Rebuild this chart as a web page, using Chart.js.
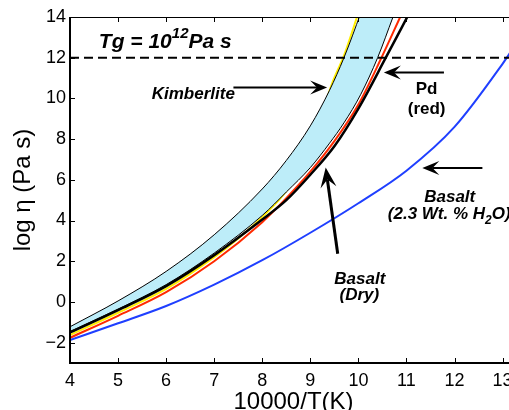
<!DOCTYPE html>
<html>
<head>
<meta charset="utf-8">
<script src="https://cdn.jsdelivr.net/npm/chart.js@4.4.1/dist/chart.umd.min.js"></script>
<style>
  html, body { margin: 0; padding: 0; background: #fff; overflow: hidden; }
  #wrap { width: 530px; height: 410px; }
</style>
</head>
<body>
<div id="wrap"><canvas id="viscChart" width="530" height="410"></canvas></div>
<script>
// x = 10000/T(K), y = log viscosity (Pa s)
const kimbX = [4, 5, 6, 7, 8, 8.5, 9, 9.4, 9.7, 10.05, 10.4, 10.72];
const kimbUpperY = [-1.22, 0.05, 1.5, 3.3, 5.55, 6.95, 8.65, 10.4, 12.0, 14.2, 16.5, 18.7];
const kimbLowerY = [-1.45, -0.35, 0.85, 2.4, 4.25, 5.4, 6.6, 7.8, 8.8, 10.2, 12.0, 14.0];
const yellowX = [4, 5, 6, 7, 7.5, 8, 8.5, 9, 9.2, 9.45, 9.7, 10.0];
const yellowY = [-1.63, -0.53, 0.64, 2.2, 3.12, 4.18, 5.45, 7.5, 8.9, 10.72, 12.1, 14.2];
const pdX = [4, 5, 6, 7, 8, 8.5, 9, 9.5, 10, 10.48, 10.87];
const pdY = [-1.76, -0.68, 0.48, 2.0, 3.92, 5.1, 6.4, 7.9, 9.7, 12.0, 14.0];
const dryX = [4, 5, 6, 7, 8, 8.5, 9, 9.5, 10, 10.57, 11.05];
const dryY = [-1.5, -0.4, 0.78, 2.3, 4.05, 5.0, 6.25, 7.65, 9.5, 12.0, 14.15];
const wetX = [4, 5, 6, 7, 8, 9, 10, 11, 12, 13, 13.3];
const wetY = [-1.87, -1.05, -0.2, 0.85, 2.05, 3.4, 4.85, 6.45, 8.6, 11.7, 12.75];
const tgX = [4, 13.3];
const tgY = [12, 12];

const xTicks = [4, 5, 6, 7, 8, 9, 10, 11, 12, 13];
const yTicks = [-2, 0, 2, 4, 6, 8, 10, 12, 14];

const FAMILY = "'Liberation Sans', Arial, Helvetica, sans-serif";

const series = (label, xs, ys, color, width, extra) => Object.assign({
  label,
  data: xs.map((v, i) => ({ x: v, y: ys[i] })),
  borderColor: color,
  borderWidth: width,
  pointRadius: 0,
  fill: false,
  cubicInterpolationMode: 'monotone'
}, extra || {});

function arrow(ctx, x1, y1, x2, y2, lw, len, half) {
  const ang = Math.atan2(y2 - y1, x2 - x1);
  const c = Math.cos(ang), s = Math.sin(ang);
  const notch = len * 0.6;
  ctx.lineWidth = lw;
  ctx.beginPath();
  ctx.moveTo(x1, y1);
  ctx.lineTo(x2 - c * notch, y2 - s * notch);
  ctx.stroke();
  ctx.beginPath();
  ctx.moveTo(x2, y2);
  ctx.lineTo(x2 - c * len - s * half, y2 - s * len + c * half);
  ctx.lineTo(x2 - c * notch, y2 - s * notch);
  ctx.lineTo(x2 - c * len + s * half, y2 - s * len - c * half);
  ctx.closePath();
  ctx.fill();
}

// text made of pieces: [text, size, raise, style]
function textRuns(ctx, parts, px, base, align) {
  const widths = parts.map(p => {
    ctx.font = `${p[3]} ${p[1]}px ${FAMILY}`;
    return ctx.measureText(p[0]).width;
  });
  const total = widths.reduce((a, b) => a + b, 0);
  let cur = align === 'center' ? px - total / 2 : align === 'right' ? px - total : px;
  ctx.textAlign = 'left';
  ctx.textBaseline = 'alphabetic';
  parts.forEach((p, i) => {
    ctx.font = `${p[3]} ${p[1]}px ${FAMILY}`;
    ctx.fillText(p[0], cur, base - p[2]);
    cur += widths[i];
  });
}

const framePlugin = {
  id: 'frame',
  afterDatasetsDraw(chart) {
    const { ctx, chartArea: a, scales: { x, y } } = chart;
    ctx.save();
    ctx.strokeStyle = '#000';
    ctx.lineWidth = 1;
    ctx.beginPath();
    xTicks.forEach(v => {
      const px = Math.round(x.getPixelForValue(v)) + 0.5;
      ctx.moveTo(px, a.bottom); ctx.lineTo(px, a.bottom - 5);
      ctx.moveTo(px, a.top); ctx.lineTo(px, a.top + 5);
    });
    yTicks.forEach(v => {
      const py = Math.round(y.getPixelForValue(v)) + 0.5;
      ctx.moveTo(a.left, py); ctx.lineTo(a.left + 5, py);
    });
    ctx.moveTo(a.left, a.top + 0.5); ctx.lineTo(a.right, a.top + 0.5);
    ctx.stroke();
    ctx.lineWidth = 2;
    ctx.beginPath();
    ctx.moveTo(a.left, a.top);
    ctx.lineTo(a.left, a.bottom);
    ctx.lineTo(a.right, a.bottom);
    ctx.stroke();
    ctx.restore();
  }
};

const notesPlugin = {
  id: 'notes',
  afterDatasetsDraw(chart) {
    const { ctx, scales: { x, y } } = chart;
    const X = v => x.getPixelForValue(v);
    const Y = v => y.getPixelForValue(v);
    ctx.save();
    ctx.fillStyle = '#000';
    ctx.strokeStyle = '#000';

    textRuns(ctx, [['Tg = 10', 21, 0, 'italic bold'], ['12', 15, 10, 'italic bold'], ['Pa s', 21, 0, 'italic bold']],
      X(4.6), Y(12.46), 'left');

    textRuns(ctx, [['Kimberlite', 17, 0, 'italic bold']], X(7.43), Y(9.98), 'right');
    arrow(ctx, X(7.40), Y(10.53), X(9.35), Y(10.53), 2, 17, 7);

    textRuns(ctx, [['Pd', 17, 0, 'bold']], X(11.42), Y(10.2), 'center');
    textRuns(ctx, [['(red)', 17, 0, 'bold']], X(11.42), Y(9.25), 'center');
    arrow(ctx, X(11.78), Y(11.27), X(10.53), Y(11.27), 2, 17, 7);

    textRuns(ctx, [['Basalt', 17, 0, 'italic bold']], X(11.9), Y(4.91), 'center');
    textRuns(ctx, [['(2.3 Wt. % H', 17, 0, 'italic bold'], ['2', 12, -5, 'italic bold'], ['O)', 17, 0, 'italic bold']],
      X(11.89), Y(4.09), 'center');
    arrow(ctx, X(12.58), Y(6.58), X(11.33), Y(6.58), 2, 17, 7);

    textRuns(ctx, [['Basalt', 17, 0, 'italic bold']], X(10.03), Y(0.9), 'center');
    textRuns(ctx, [['(Dry)', 17, 0, 'italic bold']], X(10.02), Y(0.08), 'center');
    arrow(ctx, X(9.57), Y(2.37), X(9.32), Y(6.6), 3, 20, 8);

    ctx.restore();
  }
};

new Chart(document.getElementById('viscChart'), {
  type: 'line',
  data: {
    datasets: [
      series('Tg', tgX, tgY, '#000', 2, { borderDash: [9, 5], cubicInterpolationMode: 'default', tension: 0 }),
      series('Basalt (2.3 wt% H2O)', wetX, wetY, '#1f3fff', 2),
      series('Basalt (Dry)', dryX, dryY, '#000', 2.5),
      series('Pd', pdX, pdY, '#ff2a00', 2),
      series('Kimberlite low', kimbX, kimbLowerY, '#000', 1),
      series('Kimberlite high', kimbX, kimbUpperY, '#000', 1, { fill: 4, backgroundColor: '#bdedf9' }),
      series('Yellow', yellowX, yellowY, '#ffee00', 2)
    ]
  },
  options: {
    responsive: false,
    animation: false,
    events: [],
    layout: { padding: { top: 17, right: 13, left: 0, bottom: 0 } },
    plugins: {
      legend: { display: false },
      tooltip: { enabled: false }
    },
    scales: {
      x: {
        type: 'linear',
        min: 4,
        max: 13.3,
        grid: { display: false, drawTicks: false },
        border: { display: false },
        afterBuildTicks: s => { s.ticks = xTicks.map(v => ({ value: v })); },
        afterFit: s => { s.height = 47; },
        ticks: {
          autoSkip: false, maxRotation: 0, padding: 7, color: '#000',
          font: { family: FAMILY, size: 18 }
        },
        title: {
          display: true, text: '10000/T(K)', color: '#000',
          font: { family: FAMILY, size: 24, lineHeight: 0.67 },
          padding: { top: 0, bottom: 0 }
        }
      },
      y: {
        type: 'linear',
        min: -3,
        max: 14,
        grid: { display: false, drawTicks: false },
        border: { display: false },
        afterBuildTicks: s => { s.ticks = yTicks.map(v => ({ value: v })); },
        afterFit: s => { s.width = 70; },
        ticks: {
          autoSkip: false, padding: 4, color: '#000',
          callback: v => v < 0 ? '\u2212' + Math.abs(v) : String(v),
          font: { family: FAMILY, size: 18 }
        },
        title: {
          display: true, text: 'log \u03b7 (Pa s)', color: '#000',
          font: { family: FAMILY, size: 24, lineHeight: 1.2 },
          padding: { top: 9, bottom: 0 }
        }
      }
    }
  },
  plugins: [framePlugin, notesPlugin]
});
</script>
</body>
</html>
